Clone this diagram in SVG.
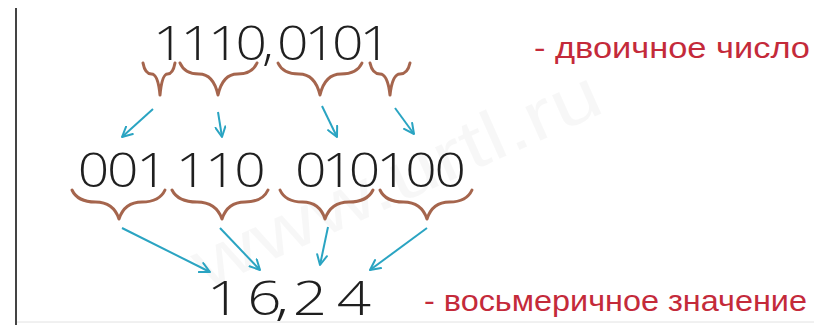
<svg xmlns="http://www.w3.org/2000/svg" width="814" height="325" viewBox="0 0 814 325">
<style>
.num{font-family:"Open Sans","Liberation Sans",sans-serif;font-size:48px;font-weight:300;fill:#1f1f1f;text-anchor:middle}
.red{font-family:"Liberation Sans",Arial,sans-serif;font-size:29px;fill:#c42a3a}
.brace{fill:none;stroke:#a5654d;stroke-width:3;stroke-linecap:round;stroke-linejoin:round}
.arr{fill:none;stroke:#2aa4c2;stroke-width:2;marker-end:url(#ah)}
.wm{font-family:"Liberation Sans",Arial,sans-serif;font-size:70px;fill:#000;fill-opacity:0.03}
</style>
<defs>
<marker id="ah" viewBox="0 0 12 12" refX="11" refY="6" markerWidth="12" markerHeight="12" markerUnits="userSpaceOnUse" orient="auto">
<path d="M1,1 L11,6 L1,11" fill="none" stroke="#2aa4c2" stroke-width="2" stroke-linecap="round" stroke-linejoin="round"/>
</marker>
</defs>
<rect width="814" height="325" fill="#fff"/>
<line x1="16" y1="8" x2="16" y2="325" stroke="#444" stroke-width="2"/>
<line x1="17" y1="322" x2="814" y2="322" stroke="#e2e2e2" stroke-width="1"/>
<text class="wm" transform="translate(205,290) rotate(-24)" textLength="440" lengthAdjust="spacingAndGlyphs">www.urtl.ru</text>

<g id="binary">
<text class="num" transform="scale(1.15,1)" x="180.9" y="60" letter-spacing="-3.5">1110</text>
<text class="num" transform="scale(1.15,1)" x="233" y="60">,</text>
<text class="num" transform="scale(1.15,1)" x="288.7" y="60" letter-spacing="-3.5">0101</text>
</g>
<g id="label-binary"><text class="red" x="534" y="58" textLength="276" lengthAdjust="spacingAndGlyphs">- двоичное число</text></g>

<g id="braces-top">
<path class="brace" d="M143,63 Q145,74 151.5,74 Q158,74 160,95 Q162,74 167.5,74 Q173,74 175,63"/>
<path class="brace" d="M180,63 Q184.6,74 199,74 Q213.4,74 218,95 Q222.7,74 237.5,74 Q252.3,74 257,63"/>
<path class="brace" d="M278,63 Q283,74 299,74 Q315,74 320,95 Q325,74 341,74 Q357,74 362,63"/>
<path class="brace" d="M370,63 Q372.4,74 380,74 Q387.6,74 390,95 Q392.4,74 400,74 Q407.6,74 410,63"/>
</g>

<g id="triads">
<text class="num" transform="scale(1.15,1)" x="105.7" y="187" letter-spacing="-2">001</text>
<text class="num" transform="scale(1.15,1)" x="191" y="187" letter-spacing="-2">110</text>
<text class="num" transform="scale(1.15,1)" x="291.6" y="187" letter-spacing="-4">010</text>
<text class="num" transform="scale(1.15,1)" x="365.2" y="187" letter-spacing="-2">100</text>
</g>

<g id="braces-mid">
<path class="brace" d="M72,190 Q77.6,202 95.5,202 Q113.4,202 119,219 Q124.5,202 142,202 Q159.5,202 165,190"/>
<path class="brace" d="M172,190 Q178,202 197,202 Q216,202 222,219 Q227.5,202 245,202 Q262.5,202 268,190"/>
<path class="brace" d="M280,190 Q285.4,202 302.5,202 Q319.6,202 325,219 Q330.8,202 349,202 Q367.2,202 373,190"/>
<path class="brace" d="M380,190 Q385.6,202 403.5,202 Q421.4,202 427,219 Q432.4,202 449.5,202 Q466.6,202 472,190"/>
</g>

<g id="octal">
<text class="num" x="224" y="315" textLength="34.3" lengthAdjust="spacingAndGlyphs">1</text>
<text class="num" x="264.5" y="315" textLength="34.3" lengthAdjust="spacingAndGlyphs">6</text>
<text class="num" x="282" y="315" textLength="15" lengthAdjust="spacingAndGlyphs">,</text>
<text class="num" x="310" y="315" textLength="34.3" lengthAdjust="spacingAndGlyphs">2</text>
<text class="num" x="354" y="315" textLength="34.3" lengthAdjust="spacingAndGlyphs">4</text>
</g>
<g id="label-octal"><text class="red" x="424" y="311" textLength="383" lengthAdjust="spacingAndGlyphs">- восьмеричное значение</text></g>

<g id="connectors">
<line class="arr" x1="153" y1="109" x2="122" y2="137"/>
<line class="arr" x1="218" y1="112" x2="222" y2="137"/>
<line class="arr" x1="322" y1="106" x2="337" y2="137"/>
<line class="arr" x1="395" y1="108" x2="414" y2="134"/>
<line class="arr" x1="122" y1="228" x2="210" y2="272"/>
<line class="arr" x1="220" y1="228" x2="260" y2="270"/>
<line class="arr" x1="328" y1="227" x2="320" y2="265"/>
<line class="arr" x1="427" y1="228" x2="370" y2="270"/>
</g>
</svg>
